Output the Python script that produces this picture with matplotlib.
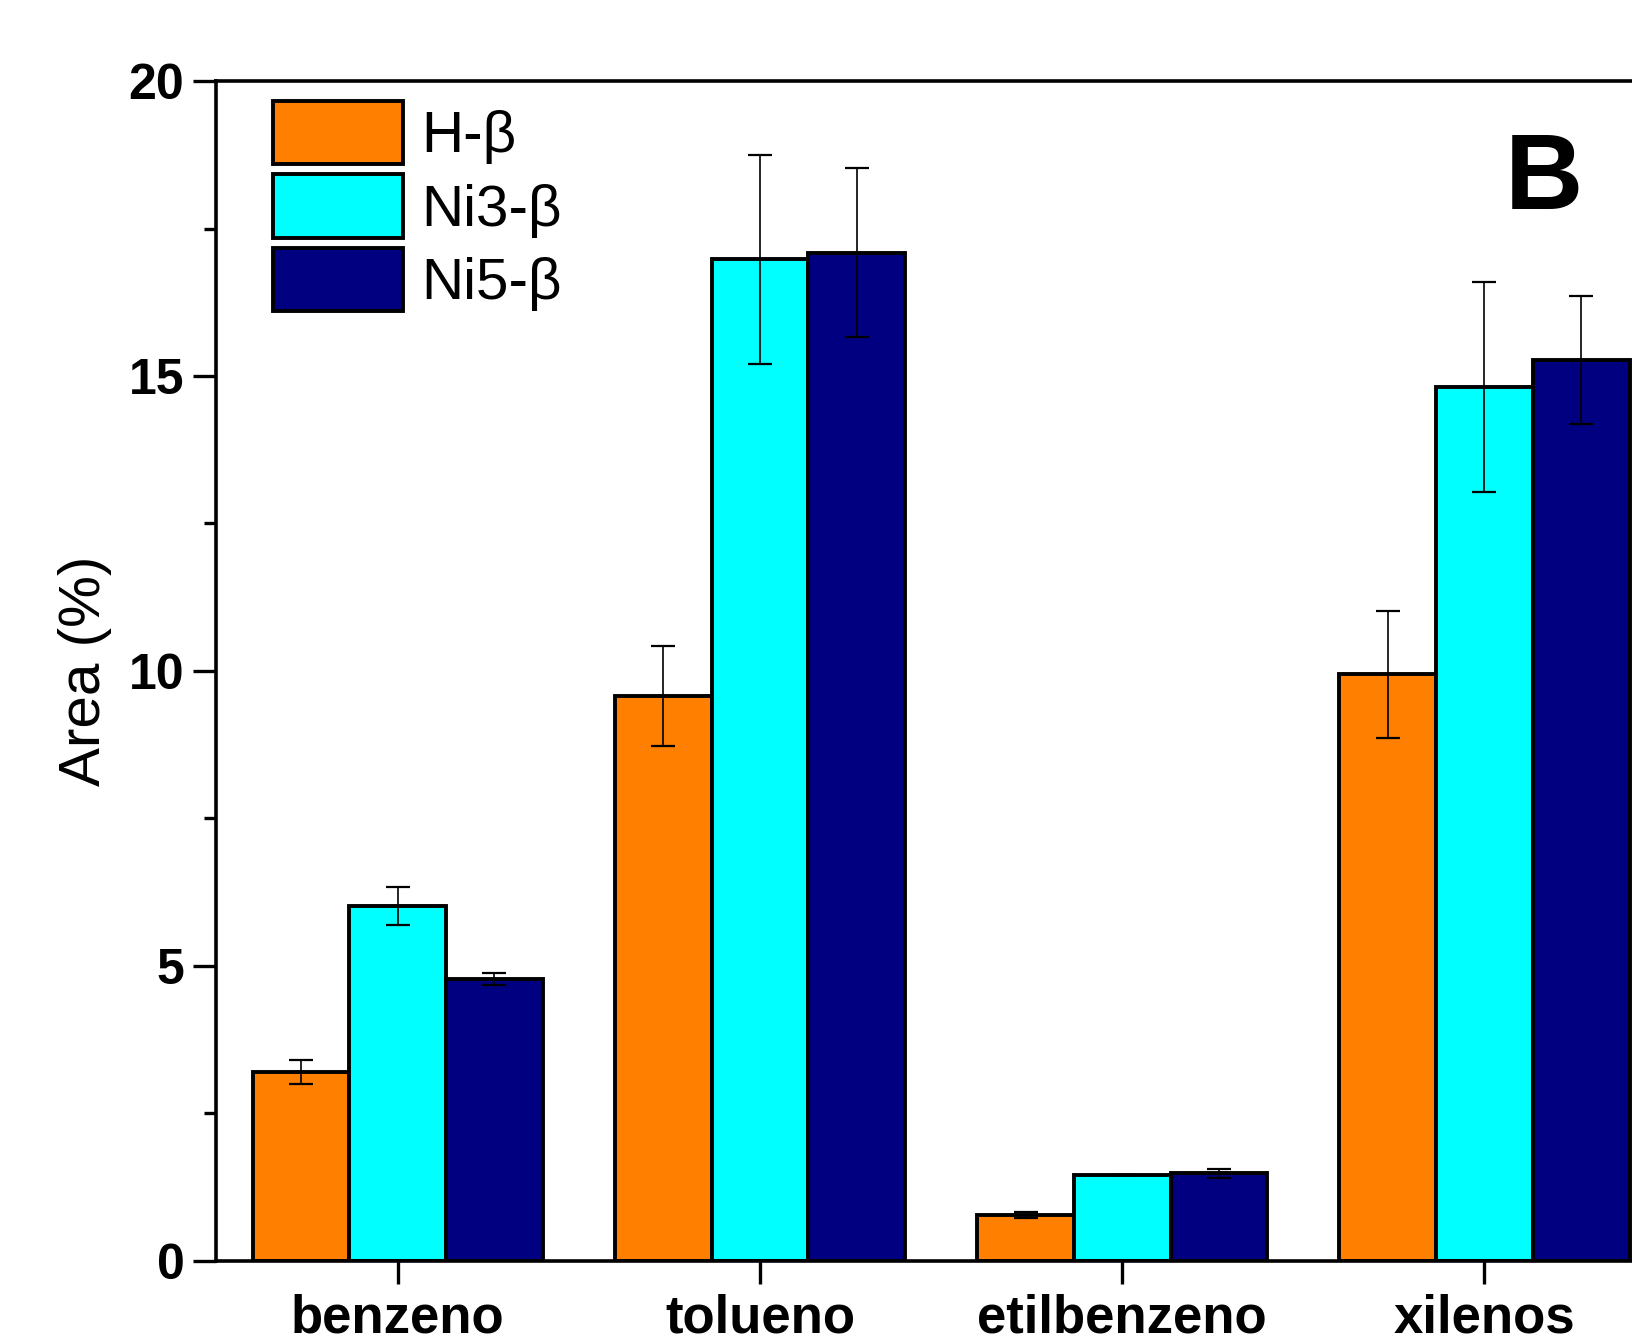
import matplotlib.pyplot as plt
import numpy as np

plt.rcParams["font.family"] = ["Liberation Sans", "DejaVu Sans"]

categories = ["benzeno", "tolueno", "etilbenzeno", "xilenos"]
series = ["H-β", "Ni3-β", "Ni5-β"]
h_beta = [3.2, 9.57, 0.78, 9.94]
h_beta_err = [0.2, 0.85, 0.05, 1.08]
ni3_beta = [6.02, 16.98, 1.45, 14.81]
ni3_beta_err = [0.32, 1.77, 0.0, 1.78]
ni5_beta = [4.77, 17.09, 1.48, 15.27]
ni5_beta_err = [0.1, 1.43, 0.07, 1.08]
colors = ["#FF8000", "#00FFFF", "#000080"]

fig = plt.figure(figsize=(16.33, 13.44), dpi=100)
ax = fig.add_axes([0.132, 0.062, 0.868, 0.8776])

x = np.arange(len(categories))
width = 0.267
values = [h_beta, ni3_beta, ni5_beta]
errors = [h_beta_err, ni3_beta_err, ni5_beta_err]
for i, (vals, errs, name, c) in enumerate(zip(values, errors, series, colors)):
    pos = x + (i - 1) * width
    ax.bar(pos, vals, width, color=c, edgecolor="black", linewidth=2.8, label=name, zorder=2)
    ax.errorbar(pos, vals, yerr=errs, fmt="none", ecolor="black", elinewidth=1.2,
                capsize=8.3, capthick=1.6, zorder=3)

ax.set_xlim(-0.503, 3.41)
ax.set_ylim(0, 20)
ax.set_xticks(x)
ax.set_xticklabels(categories, fontsize=38, fontweight="bold")
ax.set_yticks([0, 5, 10, 15, 20])
ax.set_yticklabels(["0", "5", "10", "15", "20"], fontsize=36, fontweight="bold")
ax.set_yticks(np.arange(2.5, 20, 5), minor=True)
ax.tick_params(axis="both", which="major", direction="out", length=16.5, width=2.4, pad=6)
ax.tick_params(axis="y", which="minor", direction="out", length=8.5, width=2.4)
ax.tick_params(axis="x", which="major", pad=7)
for side in ["left", "bottom", "top"]:
    ax.spines[side].set_linewidth(2.6)
ax.spines["right"].set_visible(False)

ax.set_ylabel("Area (%)", fontsize=42)
ax.yaxis.set_label_coords(-0.073, 0.5)

ax.text(0.937, 0.915, "B", transform=ax.transAxes, fontsize=78, fontweight="bold",
        ha="center", va="center")

ax.legend(loc="upper left", bbox_to_anchor=(0.167, 0.925), bbox_transform=fig.transFigure,
          fontsize=42, frameon=False, handlelength=2.24, handleheight=1.3,
          labelspacing=0.17, handletextpad=0.3, borderpad=0, borderaxespad=0)

fig.savefig("out.png", dpi=100)
